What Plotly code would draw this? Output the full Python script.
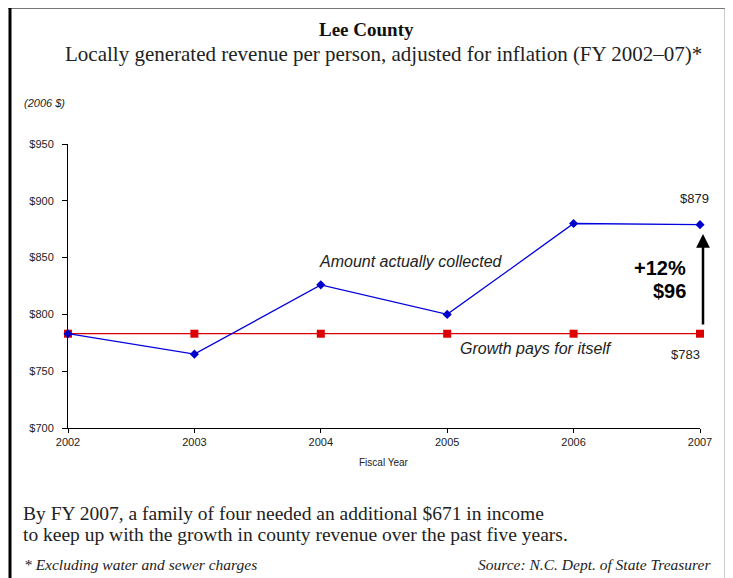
import plotly.graph_objects as go

years = [2002, 2003, 2004, 2005, 2006, 2007]
collected = [783, 765, 826, 800, 880, 879]
baseline = [783, 783, 783, 783, 783, 783]
y_ticks = [700, 750, 800, 850, 900, 950]
y_tick_labels = ["$700", "$750", "$800", "$850", "$900", "$950"]

OFF = 8  # page body margin
W, H = 733 - OFF, 578 - OFF
L, R, T, B = 68 - OFF, 33, 144 - OFF, 150
PW, PH = W - L - R, H - T - B

def px(x):
    return (x - OFF - L) / PW

def py(y):
    return (H - B - (y - OFF)) / PH

fig = go.Figure()
fig.add_trace(go.Scatter(
    x=years, y=baseline, mode="lines+markers",
    line=dict(color="#DD0000", width=1.3),
    marker=dict(symbol="square", size=8, color="#DD0000"),
    showlegend=False, hoverinfo="skip", cliponaxis=False))
fig.add_trace(go.Scatter(
    x=years, y=collected, mode="lines+markers",
    line=dict(color="#0000DD", width=1.3),
    marker=dict(symbol="diamond", size=7, color="#0000CC"),
    showlegend=False, hoverinfo="skip", cliponaxis=False))

serif = "Liberation Serif"
sans = "Liberation Sans"

ann = []
def txt(x, y, s, size, fam, color="#222", xanchor="center", bold=False, italic=False):
    if bold:
        s = "<b>" + s + "</b>"
    if italic:
        s = "<i>" + s + "</i>"
    ann.append(dict(x=px(x), y=py(y), xref="paper", yref="paper", text=s,
                    showarrow=False, xanchor=xanchor, yanchor="middle",
                    font=dict(family=fam, size=size, color=color)))

txt(366, 29, "Lee County", 19, serif, color="#111", bold=True)
txt(383, 54, "Locally generated revenue per person, adjusted for inflation (FY 2002\u201307)*", 21, serif)
txt(22, 103, "(2006 $)", 11, sans, xanchor="left", italic=True)
txt(384, 462, "Fiscal Year", 10, sans)
txt(411, 261, "Amount actually collected", 16, sans, italic=True)
txt(536, 348, "Growth pays for itself", 16, sans, italic=True)
txt(694, 198, "$" + str(collected[-1]), 13, sans)
txt(685, 354, "$" + str(baseline[-1]), 13, sans)
txt(688, 268, "+12%", 20, sans, color="#000", xanchor="right", bold=True)
txt(688, 291, "$" + str(collected[-1] - baseline[-1]), 20, sans, color="#000", xanchor="right", bold=True)
txt(21, 513, "By FY 2007, a family of four needed an additional $671 in income", 19.5, serif, xanchor="left")
txt(21, 534, "to keep up with the growth in county revenue over the past five years.", 19.5, serif, xanchor="left")
txt(22, 564, "* Excluding water and sewer charges", 15.5, serif, xanchor="left", italic=True)
txt(713, 564, "Source: N.C. Dept. of State Treasurer", 15.5, serif, xanchor="right", italic=True)

# arrow
ann.append(dict(x=px(703), y=py(234), xref="paper", yref="paper", text="",
                showarrow=True, ax=0, ay=92, arrowhead=2, arrowsize=1.1,
                arrowwidth=2.5, arrowcolor="#000"))

shapes = [
    dict(type="line", xref="paper", yref="paper", x0=px(0), x1=px(728), y0=py(8), y1=py(8),
         line=dict(color="#777", width=2)),
    dict(type="line", xref="paper", yref="paper", x0=px(10), x1=px(10), y0=py(7), y1=py(580),
         line=dict(color="#000", width=3)),
    dict(type="line", xref="paper", yref="paper", x0=px(725), x1=px(725), y0=py(8), y1=py(580),
         line=dict(color="#999", width=1)),
    dict(type="line", xref="paper", yref="paper", x0=px(728.5), x1=px(728.5), y0=py(7), y1=py(580),
         line=dict(color="#000", width=3)),
]

fig.update_layout(
    width=W, height=H,
    margin=dict(l=L, r=R, t=T, b=B, pad=0),
    paper_bgcolor="white", plot_bgcolor="white",
    annotations=ann, shapes=shapes,
    xaxis=dict(range=[2002, 2007], tickvals=years, ticktext=[str(y) for y in years],
               showgrid=False, zeroline=False, showline=True, linecolor="#000", linewidth=1,
               ticks="outside", ticklen=4, tickcolor="#000",
               tickfont=dict(family=sans, size=11, color="#222")),
    yaxis=dict(range=[700, 950], tickvals=y_ticks, ticktext=y_tick_labels,
               showgrid=False, zeroline=False, showline=True, linecolor="#000", linewidth=1,
               ticks="outside", ticklen=5, tickcolor="#000", ticklabelstandoff=6,
               tickfont=dict(family=sans, size=11, color="#222")),
)
fig.write_html("out.html")
